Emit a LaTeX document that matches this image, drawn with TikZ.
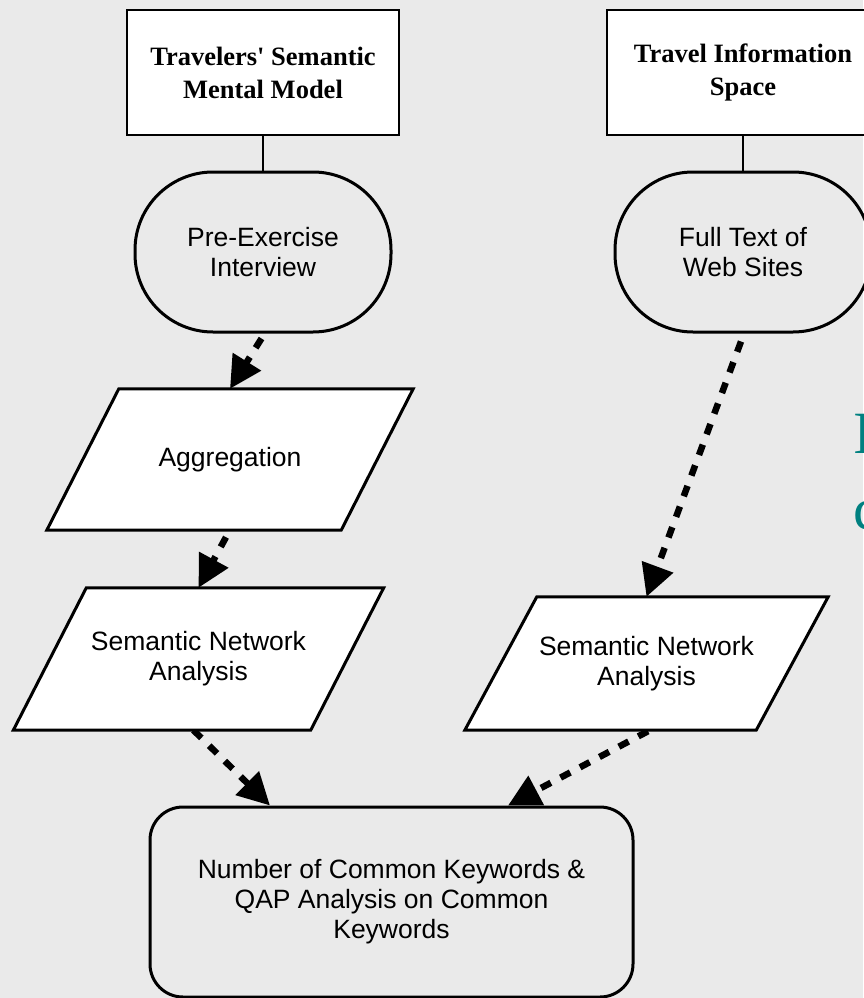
\documentclass[tikz,border=0pt]{standalone}
\usepackage{fontspec}
\setmainfont{Liberation Serif}
\newfontfamily\arialfam{Liberation Sans}
\usetikzlibrary{arrows.meta}
\definecolor{paper}{RGB}{234,234,234}
\definecolor{capteal}{RGB}{0,128,128}
\pgfdeclarelayer{back}
\pgfdeclarelayer{links}
\pgfdeclarelayer{shapes}
\pgfsetlayers{back,links,shapes,main}
% slanted box drawn behind the text node #1, with half-slant #2
\newcommand\slantbox[2]{%
  \begin{pgfonlayer}{shapes}
    \draw[paraline] ([xshift=#2]#1.north west) -- ([xshift=#2]#1.north east)
      -- ([xshift=-#2]#1.south east) -- ([xshift=-#2]#1.south west) -- cycle;
  \end{pgfonlayer}}
\begin{document}
\begin{tikzpicture}[x=1pt,y=-1pt,
  title/.style={draw,line width=1.5pt,fill=white,minimum width=272pt,minimum height=125pt,
    inner sep=0pt,align=center,font=\bfseries\fontsize{26.5}{33}\selectfont},
  stadium/.style={draw,line width=3pt,rounded corners=78pt,minimum width=256pt,minimum height=160pt,
    inner sep=0pt,align=center,font=\arialfam\fontsize{26.5}{30}\selectfont},
  slanted/.style={inner sep=0pt,align=center,font=\arialfam\fontsize{26.5}{30}\selectfont},
  paraline/.style={draw,line width=3pt,fill=white,line join=miter},
  result/.style={draw,line width=3pt,fill=paper,rounded corners=33pt,minimum width=483pt,
    minimum height=190pt,inner sep=0pt,align=center,font=\arialfam\fontsize{26.5}{30}\selectfont},
  link/.style={line width=1.5pt},
  flow/.style={line width=6.5pt,dash pattern=on 11pt off 11pt,
    -{Triangle[length=32pt,width=32pt]}},
  caption/.style={anchor=base west,inner sep=0pt,text=capteal,font=\fontsize{60}{60}\selectfont}
]
\useasboundingbox (0,0) rectangle (863,998);
\begin{pgfonlayer}{back}
  \fill[paper] (0,0) rectangle (863,998);
\end{pgfonlayer}

% sources
\node[title] (mental) at (263,72.5) {Travelers\textquotesingle\ Semantic\\Mental Model};
\node[title] (space) at (743,72.5) {Travel Information\\Space};

% collection steps
\node[stadium] (pre) at (263,252) {Pre-Exercise\\Interview};
\node[stadium] (full) at (743,252) {Full Text of\\Web Sites};

% processing steps
\node[slanted,minimum width=294pt,minimum height=141pt] (agg) at (230,459.5) {Aggregation};
\slantbox{agg}{36pt}
\node[slanted,minimum width=297pt,minimum height=142pt] (snal) at (198.5,659) {Semantic Network\\Analysis};
\slantbox{snal}{36.5pt}
\node[slanted,minimum width=291pt,minimum height=133pt] (snar) at (646.5,663.5) {Semantic Network\\Analysis};
\slantbox{snar}{36pt}

% result
\node[result] (qap) at (391.5,902) {Number of Common Keywords \&\\QAP Analysis on Common\\Keywords};

% side heading, running past the right edge
\node[caption] (capA) at (853,453) {I};
\node[caption] (capB) at (853.5,529) {c};

% connectors
\draw[link] (mental.south) -- (pre.north);
\draw[link] (space.south) -- (full.north);
\begin{pgfonlayer}{links}
  \draw[flow] ([xshift=-1.5pt,yshift=-5pt]pre.south) -- (agg.north);
  \draw[flow] ([xshift=-4pt,yshift=-7pt]agg.south) -- (snal.north);
  \draw[flow] ([xshift=-5pt,yshift=0pt]snal.south) -- ([xshift=-121.5pt]qap.north);
  \draw[flow] ([xshift=-2pt,yshift=-8pt]full.south) -- (snar.north);
  \draw[flow] ([xshift=1.5pt,yshift=-1pt]snar.south) -- ([xshift=116.5pt]qap.north);
\end{pgfonlayer}
\end{tikzpicture}
\end{document}
